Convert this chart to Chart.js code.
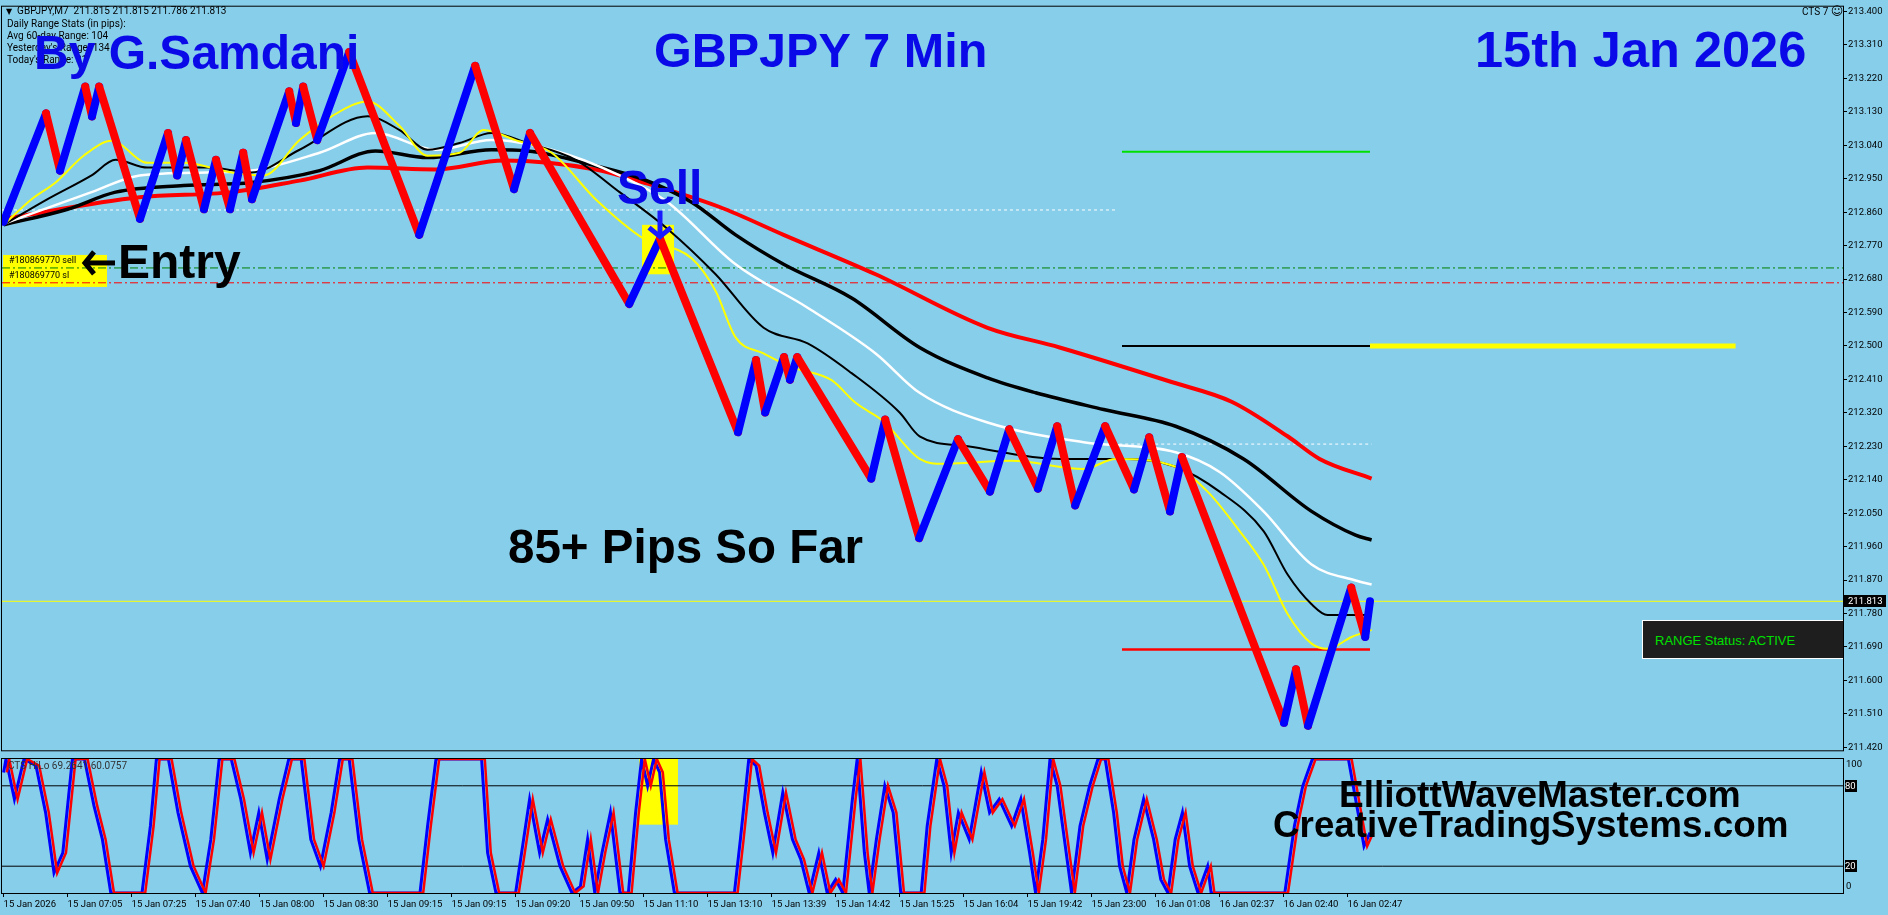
<!DOCTYPE html>
<html>
<head>
<meta charset="utf-8">
<script src="https://cdn.jsdelivr.net/npm/chart.js@4.4.1/dist/chart.umd.min.js"></script>
<style>
  html, body { margin: 0; padding: 0; background: #87ceeb; overflow: hidden; }
  #wrap { position: relative; width: 1888px; height: 915px; background: #87ceeb; }
  canvas { position: absolute; left: 0; }
  #main { top: 0; }
  #osc { top: 757px; }
  .big { position: absolute; white-space: nowrap; line-height: 1; font-family: "Liberation Sans", Arial, sans-serif; font-weight: bold; }
  .small { position: absolute; white-space: nowrap; font-family: Roboto, sans-serif; font-size: 10px; line-height: 12px; color: #000; }
</style>
</head>
<body>
<div id="wrap">
  <canvas id="main" width="1888" height="757"></canvas>
  <canvas id="osc" width="1888" height="158"></canvas>

  <div class="small" style="left:6px;top:5px;"><span style="font-family:'DejaVu Sans';font-size:8px;">&#9660;</span>&nbsp; GBPJPY,M7&nbsp; 211.815 211.815 211.786 211.813</div>
  <div class="small" style="left:7px;top:18px;">Daily Range Stats (in pips):</div>
  <div class="small" style="left:7px;top:30px;">Avg 60-day Range: 104</div>
  <div class="small" style="left:7px;top:42px;">Yesterday's Range: 134</div>
  <div class="small" style="left:7px;top:54px;">Today's Range: 81</div>
  <div class="small" style="left:1802px;top:5px;">CTS 7 <span style="font-family:'DejaVu Sans';font-size:12px;">&#9786;</span></div>

  <div class="big" style="left:34px;top:29px;font-size:48px;color:#0a0ae8;">By G.Samdani</div>
  <div class="big" style="left:654px;top:26px;font-size:48.5px;color:#0a0ae8;">GBPJPY 7 Min</div>
  <div class="big" style="left:1475px;top:25px;font-size:50.5px;color:#0a0ae8;">15th Jan 2026</div>
  <div class="big" style="left:617px;top:164px;font-size:48px;color:#0a0ae8;">Sell</div>
  <div class="big" style="left:118px;top:238px;font-size:48px;color:#000;">Entry</div>
  <div class="big" style="left:508px;top:523px;font-size:47.5px;color:#000;">85+ Pips So Far</div>
  <div class="big" style="left:1339px;top:776px;font-size:37px;color:#000;">ElliottWaveMaster.com</div>
  <div class="big" style="left:1273px;top:807px;font-size:36.8px;color:#000;">CreativeTradingSystems.com</div>

  <div class="small" style="left:9px;top:254px;font-size:9px;">#180869770 sell</div>
  <div class="small" style="left:9px;top:269px;font-size:9px;">#180869770 sl</div>

  <div style="position:absolute;left:1642px;top:620px;width:200px;height:37px;background:#1e1e1e;border-top:1px solid #fff;border-left:1px solid #fff;border-bottom:1px solid #fff;"></div>
  <div style="position:absolute;left:1655px;top:633px;font-family:'Liberation Sans',Arial,sans-serif;font-size:13px;line-height:16px;color:#00e000;white-space:nowrap;">RANGE Status: ACTIVE</div>

  <div class="small" style="left:8px;top:760px;color:#333;">CTS HiLo 69.2641 60.0757</div>
</div>

<script>
// x is in bar units (one bar = 4 px of the original chart)
const X_MIN = -0.4;
const X_MAX = 459.85;
const TICK_STEP = 16;

const xTickLabels = [
  "15 Jan 2026", "15 Jan 07:05", "15 Jan 07:25", "15 Jan 07:40", "15 Jan 08:00",
  "15 Jan 08:30", "15 Jan 09:15", "15 Jan 09:15", "15 Jan 09:20", "15 Jan 09:50",
  "15 Jan 11:10", "15 Jan 13:10", "15 Jan 13:39", "15 Jan 14:42", "15 Jan 15:25",
  "15 Jan 16:04", "15 Jan 19:42", "15 Jan 23:00", "16 Jan 01:08", "16 Jan 02:37",
  "16 Jan 02:40", "16 Jan 02:47"
];

const yTickValues = [
  213.400, 213.310, 213.220, 213.130, 213.040, 212.950, 212.860, 212.770,
  212.680, 212.590, 212.500, 212.410, 212.320, 212.230, 212.140, 212.050,
  211.960, 211.870, 211.780, 211.690, 211.600, 211.510, 211.420
];

// price swing points (bar, price)
const priceBars = [0, 10.6, 14.1, 20.4, 22.1, 23.9, 34.1, 41.1, 43.4, 45.6, 50.1, 53.1, 56.6,
  59.9, 62.1, 71.4, 73.1, 74.9, 78.4, 86.4, 103.9, 117.9, 127.6, 131.6, 156.4, 164.1, 183.6,
  188.1, 190.4, 195.1, 196.6, 198.4, 216.9, 220.4, 228.9, 238.6, 246.6, 251.4, 258.6, 263.4,
  267.9, 275.4, 282.6, 286.4, 291.6, 294.6, 320.1, 323.1, 326.1, 336.9, 340.4, 341.6];
const pricePoints = [212.834, 213.126, 212.972, 213.198, 213.118, 213.198, 212.842, 213.073,
  212.959, 213.054, 212.868, 213.001, 212.868, 213.020, 212.895, 213.185, 213.100, 213.198,
  213.054, 213.291, 212.799, 213.254, 212.922, 213.073, 212.613, 212.789, 212.268, 212.462,
  212.321, 212.470, 212.409, 212.470, 212.143, 212.302, 211.983, 212.249, 212.108, 212.276,
  212.116, 212.284, 212.071, 212.284, 212.114, 212.254, 212.055, 212.201, 211.486, 211.630,
  211.478, 211.850, 211.717, 211.813];

// moving averages as [bar, price]
const maRed = [[0,212.842],[34,212.900],[57,212.914],[74,212.945],[91,212.980],[108,212.975],
  [125,212.999],[148,212.975],[160,212.940],[179,212.874],[195,212.799],[218,212.693],
  [246,212.549],[264,212.496],[292,212.403],[307,212.350],[321,212.257],[329,212.196],[342,212.143]];
const maBlackSlow = [[0,212.826],[16,212.868],[28,212.914],[45,212.932],[62,212.940],[79,212.972],
  [93,213.025],[106,213.007],[122,213.028],[131,213.025],[148,212.985],[160,212.948],[172,212.887],
  [183,212.799],[195,212.720],[212,212.629],[229,212.496],[246,212.414],[258,212.374],[275,212.329],
  [293,212.284],[310,212.196],[327,212.055],[338,211.991],[342,211.978]];
const maWhite = [[0,212.829],[22,212.914],[34,212.959],[51,212.967],[62,212.972],[79,213.020],
  [93,213.073],[108,213.028],[122,213.054],[137,213.028],[154,212.959],[166,212.887],[183,212.720],
  [201,212.603],[218,212.480],[229,212.374],[246,212.294],[270,212.241],[293,212.214],[304,212.161],
  [315,212.055],[327,211.912],[338,211.869],[342,211.858]];
const maBlackFast = [[0,212.826],[11,212.895],[22,212.959],[28,213.001],[36,212.980],[51,212.980],
  [62,212.967],[74,213.028],[91,213.118],[99,213.081],[106,213.028],[114,213.046],[122,213.073],
  [131,213.046],[143,213.001],[154,212.914],[166,212.815],[178,212.693],[190,212.549],[201,212.507],
  [212,212.427],[224,212.321],[229,212.257],[241,212.230],[264,212.196],[281,212.196],[293,212.175],
  [304,212.108],[315,212.002],[321,211.885],[327,211.805],[331,211.776],[342,211.776]];
const maYellow = [[0,212.826],[7,212.895],[13,212.940],[20,213.012],[27,213.052],[36,212.993],
  [45,212.993],[57,212.967],[65,212.959],[74,213.054],[82,213.118],[91,213.158],[99,213.092],
  [106,213.012],[114,213.020],[120,213.081],[128,213.054],[137,213.020],[148,212.895],[160,212.789],
  [172,212.736],[178,212.648],[183,212.523],[190,212.480],[197,212.443],[207,212.408],[213,212.347],
  [220,212.297],[229,212.196],[235,212.183],[252,212.191],[270,212.169],[278,212.196],[293,212.175],
  [301,212.108],[309,212.002],[315,211.912],[321,211.779],[327,211.699],[331,211.685],[337,211.717],
  [342,211.736]];

// horizontal levels
const entryPrice = 212.710;
const stopPrice = 212.670;
const lastClose = 211.813;
const dottedHigh = [[X_MIN, 212.866], [278, 212.866]];
const dottedLow = [[274.4, 212.236], [342, 212.236]];
const greenLevel = [[279.6, 213.023], [341.6, 213.023]];
const blackLevel = [[279.6, 212.500], [341.6, 212.500]];
const yellowLevel = [[341.6, 212.500], [433, 212.500]];
const redLevel = [[279.6, 211.683], [341.6, 211.683]];

// highlighted sell bar: [barFrom, barTo, priceLow, priceHigh]
const sellBox = [159.6, 167.6, 212.693, 212.826];
const sellBar = [164.1, 212.789];

// CTS HiLo oscillator [bar, value]
const oscLine = [[0,90],[0.6,100],[2.7,70],[5.1,100],[8.1,95],[10.5,60],[12.6,15],[14.8,30],
  [17.2,100],[20.2,100],[22.6,65],[24.7,40],[26.8,0],[34.6,0],[36.7,50],[38.2,100],[41.2,100],
  [43.6,60],[46.7,20],[49.7,0],[51.8,40],[53.9,100],[56.9,100],[59.3,70],[61.7,30],[63.8,60],
  [65.9,25],[68.9,70],[71.3,100],[74.4,100],[76.8,40],[79.2,20],[81.9,60],[84,100],[86.4,100],
  [88.8,40],[91.5,0],[104.1,0],[106,50],[108.1,100],[119.5,100],[121,30],[123.1,0],[128,0],
  [130,40],[131.5,70],[134,30],[136,55],[139.1,20],[142.1,0],[144.2,5],[146,40],[147.8,0],
  [149.6,30],[151.7,60],[154.1,0],[156.2,0],[158,60],[159.5,100],[161,80],[162.5,100],[164,90],
  [165.5,40],[167.7,0],[182.7,0],[184.2,40],[186.3,100],[188.1,95],[190.2,60],[192.3,30],
  [194.8,75],[197.2,40],[199.3,25],[201.4,0],[203.8,30],[205.9,0],[208,10],[209.8,0],[212.2,70],
  [213.4,100],[215.2,30],[216.4,0],[218.2,40],[220.3,80],[222.4,60],[224.3,0],[229.4,0],
  [230.9,50],[233.3,100],[235.1,80],[236.9,30],[238.7,60],[241.4,40],[244.4,90],[246.5,60],
  [248.9,70],[252,50],[254.3,70],[256.5,30],[258,0],[259.8,40],[261.6,100],[263.4,80],[265.2,40],
  [267,0],[269.1,50],[271.5,80],[273.6,100],[275.4,100],[277.5,60],[279,20],[280.8,0],[282.6,40],
  [285,70],[287.5,40],[289.3,10],[291.1,0],[292.9,40],[294.7,60],[296.5,20],[298.6,0],[301,20],
  [301.9,0],[320.3,0],[322.7,50],[324.8,80],[327.2,100],[336.2,100],[338.6,60],[340.1,35],[341.6,45]];
const oscLag = 0.8;  // the red signal trails the blue one by a bar
const oscLevels = [80, 20];
const oscBox = [158.9, 168.6, 51, 100];

Chart.defaults.font.family = "Roboto, sans-serif";
Chart.defaults.animation = false;

const toPts = (pairs) => pairs.map(p => ({ x: p[0], y: p[1] }));
const flat = (v) => [{ x: X_MIN, y: v }, { x: X_MAX, y: v }];

function lineSet(data, color, width, order, extra) {
  return Object.assign({
    data: data, borderColor: color, borderWidth: width, pointRadius: 0,
    fill: false, order: order, cubicInterpolationMode: "monotone"
  }, extra || {});
}

const framePlugin = {
  id: "frame",
  afterDraw(chart) {
    const { ctx, chartArea: a } = chart;
    ctx.save();
    ctx.strokeStyle = "#000";
    ctx.lineWidth = 1;
    ctx.strokeRect(a.left - 0.5, a.top - 0.5, a.right - a.left + 1, a.bottom - a.top + 1);
    ctx.restore();
  }
};

function arrow(ctx, tx, ty, dx, dy, len, head, color) {
  ctx.save();
  ctx.strokeStyle = color;
  ctx.lineWidth = 5;
  ctx.lineJoin = "miter";
  ctx.beginPath();
  ctx.moveTo(tx - dx * len, ty - dy * len);
  ctx.lineTo(tx - dx * 2, ty - dy * 2);
  ctx.stroke();
  ctx.beginPath();
  ctx.moveTo(tx - dx * head - dy * head, ty - dy * head - dx * head);
  ctx.lineTo(tx - dx * 2, ty - dy * 2);
  ctx.lineTo(tx - dx * head + dy * head, ty - dy * head + dx * head);
  ctx.stroke();
  ctx.restore();
}

const mainMarks = {
  id: "mainMarks",
  beforeDatasetsDraw(chart) {
    const { ctx, scales: { x, y }, chartArea: a } = chart;
    const l = x.getPixelForValue(sellBox[0]), r = x.getPixelForValue(sellBox[1]);
    const t = y.getPixelForValue(sellBox[3]), b = y.getPixelForValue(sellBox[2]);
    const ey = y.getPixelForValue(entryPrice);
    ctx.save();
    ctx.fillStyle = "#ffff00";
    ctx.fillRect(l, t, r - l, b - t);
    // order label background
    ctx.fillRect(a.left + 1, ey - 13, 104, 32);
    ctx.restore();
  },
  afterDatasetsDraw(chart) {
    const { ctx, scales: { x, y }, chartArea: a } = chart;
    arrow(ctx, x.getPixelForValue(sellBar[0]), y.getPixelForValue(sellBar[1]), 0, 1, 28, 11, "#1a1aff");
    arrow(ctx, a.left + 81, y.getPixelForValue(entryPrice) - 5, -1, 0, 32, 11, "#000");
  },
  afterDraw(chart) {
    const { ctx, scales: { y }, chartArea: a } = chart;
    const py = Math.round(y.getPixelForValue(lastClose));
    ctx.save();
    ctx.fillStyle = "#000";
    ctx.fillRect(a.right + 1, py - 6, 42, 12);
    ctx.fillStyle = "#fff";
    ctx.font = "9.5px Roboto";
    ctx.textBaseline = "middle";
    ctx.fillText(lastClose.toFixed(3), a.right + 5, py + 0.5);
    ctx.restore();
  }
};

new Chart(document.getElementById("main"), {
  type: "line",
  data: {
    datasets: [
      lineSet(pricePoints.map((v, i) => ({ x: priceBars[i], y: v })), "#0000ff", 8, 0, {
        cubicInterpolationMode: "default", tension: 0,
        borderCapStyle: "round", borderJoinStyle: "round",
        segment: { borderColor: c => c.p1.parsed.y >= c.p0.parsed.y ? "#0000ff" : "#ff0000" }
      }),
      lineSet(toPts(maYellow), "#ffff00", 2, 2),
      lineSet(toPts(maBlackFast), "#000", 2, 3),
      lineSet(toPts(maWhite), "#ffffff", 2.5, 4),
      lineSet(toPts(maBlackSlow), "#000", 3.5, 5),
      lineSet(toPts(maRed), "#ff0000", 4, 6),
      lineSet(flat(entryPrice), "#008000", 1, 7, { borderDash: [8, 3, 2, 3] }),
      lineSet(flat(stopPrice), "#ff0000", 1, 7, { borderDash: [8, 3, 2, 3] }),
      lineSet(toPts(dottedHigh), "#ffffff", 1, 7, { borderDash: [3, 3] }),
      lineSet(toPts(dottedLow), "#ffffff", 1, 7, { borderDash: [3, 3] }),
      lineSet(toPts(greenLevel), "#00e000", 2, 7),
      lineSet(toPts(blackLevel), "#000", 2, 7),
      lineSet(toPts(yellowLevel), "#ffff00", 5, 7),
      lineSet(toPts(redLevel), "#ff0000", 2.5, 7),
      lineSet(flat(lastClose), "#ffff00", 1, 8)
    ]
  },
  options: {
    responsive: false,
    layout: { padding: { left: 2, top: 2, right: 0, bottom: 2 } },
    plugins: { legend: { display: false }, tooltip: { enabled: false } },
    scales: {
      x: { type: "linear", min: X_MIN, max: X_MAX, display: false },
      y: {
        position: "right", min: 211.412, max: 213.413,
        afterBuildTicks: s => { s.ticks = yTickValues.map(v => ({ value: v })); },
        afterFit: s => { s.width = 45; },
        ticks: { color: "#000", font: { size: 9.5 }, padding: 1, callback: v => v.toFixed(3) },
        grid: { drawOnChartArea: false, tickLength: 4, color: "#000" },
        border: { color: "#000" }
      }
    }
  },
  plugins: [mainMarks, framePlugin]
});

const oscMarks = {
  id: "oscMarks",
  beforeDatasetsDraw(chart) {
    const { ctx, scales: { x, y } } = chart;
    const l = x.getPixelForValue(oscBox[0]), r = x.getPixelForValue(oscBox[1]);
    const t = y.getPixelForValue(oscBox[3]), b = y.getPixelForValue(oscBox[2]);
    ctx.save();
    ctx.fillStyle = "#ffff00";
    ctx.fillRect(l, t, r - l, b - t);
    ctx.restore();
  },
  afterDraw(chart) {
    const { ctx, scales: { y }, chartArea: a } = chart;
    ctx.save();
    ctx.font = "9.5px Roboto";
    ctx.textBaseline = "middle";
    ctx.fillStyle = "#000";
    ctx.fillText("100", a.right + 3, y.getPixelForValue(100) + 6);
    ctx.fillText("0", a.right + 3, y.getPixelForValue(0) - 6);
    oscLevels.forEach(v => {
      const py = Math.round(y.getPixelForValue(v));
      ctx.fillStyle = "#000";
      ctx.fillRect(a.right + 2, py - 6, 12, 12);
      ctx.fillStyle = "#fff";
      ctx.fillText(String(v), a.right + 2, py + 0.5);
    });
    ctx.restore();
  }
};

new Chart(document.getElementById("osc"), {
  type: "line",
  data: {
    datasets: [
      lineSet(toPts(oscLine), "#0000ff", 3, 1, { cubicInterpolationMode: "default", tension: 0 }),
      lineSet(oscLine.map(p => ({ x: p[0] + oscLag, y: p[1] })), "#ff0000", 2.5, 0,
        { cubicInterpolationMode: "default", tension: 0 }),
      lineSet(flat(oscLevels[0]), "#000", 1, 2),
      lineSet(flat(oscLevels[1]), "#000", 1, 2)
    ]
  },
  options: {
    responsive: false,
    layout: { padding: { left: 2, top: 2, right: 0, bottom: 0 } },
    plugins: { legend: { display: false }, tooltip: { enabled: false } },
    scales: {
      x: {
        type: "linear", min: X_MIN, max: X_MAX,
        afterBuildTicks: s => { s.ticks = xTickLabels.map((_, i) => ({ value: i * TICK_STEP })); },
        afterFit: s => { s.height = 22; },
        ticks: {
          color: "#000", font: { size: 9.5 }, padding: 2, align: "start",
          autoSkip: false, maxRotation: 0, minRotation: 0,
          callback: (v, i) => xTickLabels[i]
        },
        grid: { drawOnChartArea: false, tickLength: 4, color: "#000" },
        border: { color: "#000" }
      },
      y: {
        position: "right", min: 0, max: 100,
        afterFit: s => { s.width = 45; },
        ticks: { display: false },
        grid: { display: false },
        border: { color: "#000" }
      }
    }
  },
  plugins: [oscMarks, framePlugin]
});
</script>
</body>
</html>
